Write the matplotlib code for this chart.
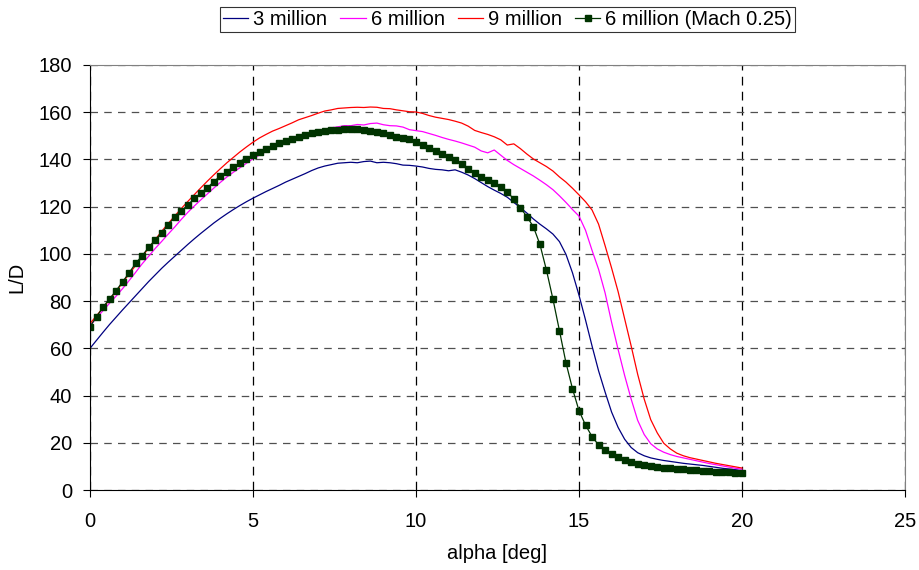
import numpy as np
import matplotlib.pyplot as plt

plt.rcParams['font.family'] = ['Liberation Sans', 'DejaVu Sans']

# angle of attack, 0.2 deg steps
alpha = np.round(np.arange(0, 20.01, 0.2), 1)

ld_3m = [60.0, 63.4, 66.8, 70.1, 73.2, 76.3, 79.3, 82.3, 85.3, 88.3,
         91.1, 93.9, 96.5, 99.0, 101.5, 104.0, 106.4, 108.7, 110.9, 113.1,
         115.1, 117.0, 118.8, 120.5, 122.1, 123.6, 125.0, 126.4, 127.7, 129.0,
         130.4, 131.6, 132.8, 134.0, 135.3, 136.4, 137.2, 137.8, 138.4, 138.6,
         138.8, 138.6, 139.1, 139.3, 138.6, 138.8, 138.6, 138.2, 137.6, 137.5,
         137.2, 136.8, 136.2, 135.8, 135.6, 135.2, 135.6, 134.6, 133.4, 131.9,
         130.2, 128.5, 127.0, 125.6, 124.0, 121.8, 119.6, 117.3, 114.8, 112.6,
         110.6, 108.4, 105.2, 99.8, 92.0, 82.5, 72.0, 61.0, 50.5, 41.5,
         33.0, 26.5, 21.5, 18.0, 15.8, 14.5, 13.6, 13.0, 12.5, 12.1,
         11.7, 11.3, 11.0, 10.7, 10.4, 10.0, 9.6, 9.2, 8.9, 8.6,
         8.2]

ld_6m = [69.5, 72.8, 76.0, 79.1, 82.1, 85.3, 88.7, 92.2, 95.8, 99.0,
         102.3, 105.3, 108.4, 111.4, 114.6, 117.6, 120.3, 122.9, 125.4, 127.9,
         130.3, 132.6, 134.6, 136.5, 138.4, 140.3, 141.9, 143.3, 144.8, 146.0,
         147.1, 148.3, 149.4, 150.4, 151.2, 152.0, 152.8, 153.4, 153.8, 154.3,
         154.3, 154.8, 154.6, 155.2, 155.4, 154.7, 154.3, 154.2, 153.7, 152.6,
         152.2, 151.8, 151.0, 150.2, 149.3, 148.5, 147.8, 147.0, 146.1, 145.2,
         143.6, 142.8, 144.0, 141.8, 139.6, 137.8, 136.2, 134.6, 133.0, 131.2,
         129.3, 127.2, 124.6, 121.8, 118.8, 116.0, 110.0, 101.5, 93.5, 83.5,
         71.0, 59.5, 48.5, 38.5, 29.5, 23.5, 19.6, 17.4, 16.0, 15.0,
         14.2, 13.6, 13.0, 12.4, 11.8, 11.2, 10.7, 10.2, 9.7, 9.2,
         8.8]

ld_9m = [70.5, 73.8, 77.2, 80.6, 84.1, 87.8, 91.5, 95.1, 98.8, 102.5,
         106.1, 109.6, 112.9, 116.1, 119.2, 122.2, 125.1, 128.0, 130.8, 133.5,
         136.1, 138.6, 140.9, 143.2, 145.3, 147.3, 149.1, 150.6, 152.0, 153.1,
         154.3, 155.5, 156.8, 157.7, 158.6, 159.6, 160.5, 161.0, 161.6, 161.8,
         162.0, 162.1, 162.0, 162.2, 162.1, 161.6, 161.5, 161.0, 160.6, 160.2,
         160.1, 159.5, 158.6, 157.9, 157.4, 156.9, 156.2, 155.4, 154.1, 152.3,
         151.4, 150.6, 149.6, 148.3, 146.1, 146.6, 144.6, 142.3, 140.2, 138.6,
         137.0, 135.1, 132.6, 130.4, 127.8, 125.0, 122.1, 118.6, 112.6, 103.5,
         94.0, 84.0, 72.5, 61.0, 49.0, 38.5, 29.8, 24.2, 19.8, 17.4,
         15.6, 14.5, 13.7, 13.1, 12.5, 11.9, 11.3, 10.8, 10.3, 9.8,
         9.3]

ld_6m_mach = [69.2, 73.4, 77.4, 81.0, 84.4, 88.2, 92.0, 96.0, 99.2, 102.8,
              105.9, 109.0, 112.2, 115.8, 118.2, 120.7, 123.5, 125.7, 128.0, 130.6,
              133.0, 134.8, 137.0, 138.4, 140.2, 141.8, 143.3, 144.6, 145.7, 146.8,
              147.8, 148.8, 149.7, 150.4, 151.1, 151.6, 152.1, 152.3, 152.6, 152.8,
              152.8, 152.8, 152.5, 151.9, 151.6, 151.3, 150.4, 149.4, 149.1, 148.5,
              147.3, 146.0, 144.7, 143.4, 142.3, 141.2, 139.8, 138.1, 136.1, 134.1,
              132.4, 131.3, 129.9, 128.2, 126.4, 123.1, 119.6, 115.8, 111.5, 104.1,
              93.2, 80.9, 67.5, 53.9, 42.9, 33.6, 27.5, 22.6, 19.1, 16.9,
              15.2, 13.8, 12.7, 11.9, 11.2, 10.6, 10.2, 9.7, 9.5, 9.2,
              8.9, 8.7, 8.5, 8.3, 8.1, 7.9, 7.8, 7.6, 7.5, 7.4,
              7.3]

fig = plt.figure(figsize=(9.2, 5.7), dpi=100)
ax = fig.add_axes([90/920, 1 - 490/570, 815/920, 425/570])

ax.plot(alpha, ld_3m, color='#000080', lw=0.9, label='3 million')
ax.plot(alpha, ld_6m, color='#FF00FF', lw=0.9, label='6 million')
ax.plot(alpha, ld_9m, color='#FF0000', lw=0.9, label='9 million')
ax.plot(alpha, ld_6m_mach, color='#003300', lw=0.9, marker='s', ms=5,
        mfc='#003300', mec='#003300', label='6 million (Mach 0.25)')

ax.set_xlim(0, 25)
ax.set_ylim(0, 180)
ax.set_xticks(range(0, 26, 5))
ax.set_yticks(range(0, 181, 20))

ax.yaxis.grid(True, color='#505050', linestyle=(0, (6, 5)), lw=0.9)
ax.xaxis.grid(True, color='black', linestyle=(0, (7, 5)), lw=0.9)
ax.set_axisbelow(True)

for side in ['top', 'right']:
    ax.spines[side].set_color('#808080')
for side in ['left', 'bottom']:
    ax.spines[side].set_color('black')
ax.tick_params(direction='out', length=5, width=0.8, labelsize=14.5, colors='black')
ax.tick_params(axis='x', pad=11)
ax.tick_params(axis='y', pad=8)

ax.set_xlabel('alpha [deg]', fontsize=14.5, labelpad=9)
ax.set_ylabel('L/D', fontsize=14.5, labelpad=9)

leg = fig.legend(loc='upper right', bbox_to_anchor=(795/920, 1 - 7/570), ncol=4,
                 fontsize=14.5, frameon=True, fancybox=False, edgecolor='black',
                 handlelength=1.25, handletextpad=0.25, columnspacing=0.65,
                 borderpad=0.15, borderaxespad=0)
leg.get_frame().set_linewidth(0.8)

fig.savefig('out.png', dpi=100)
